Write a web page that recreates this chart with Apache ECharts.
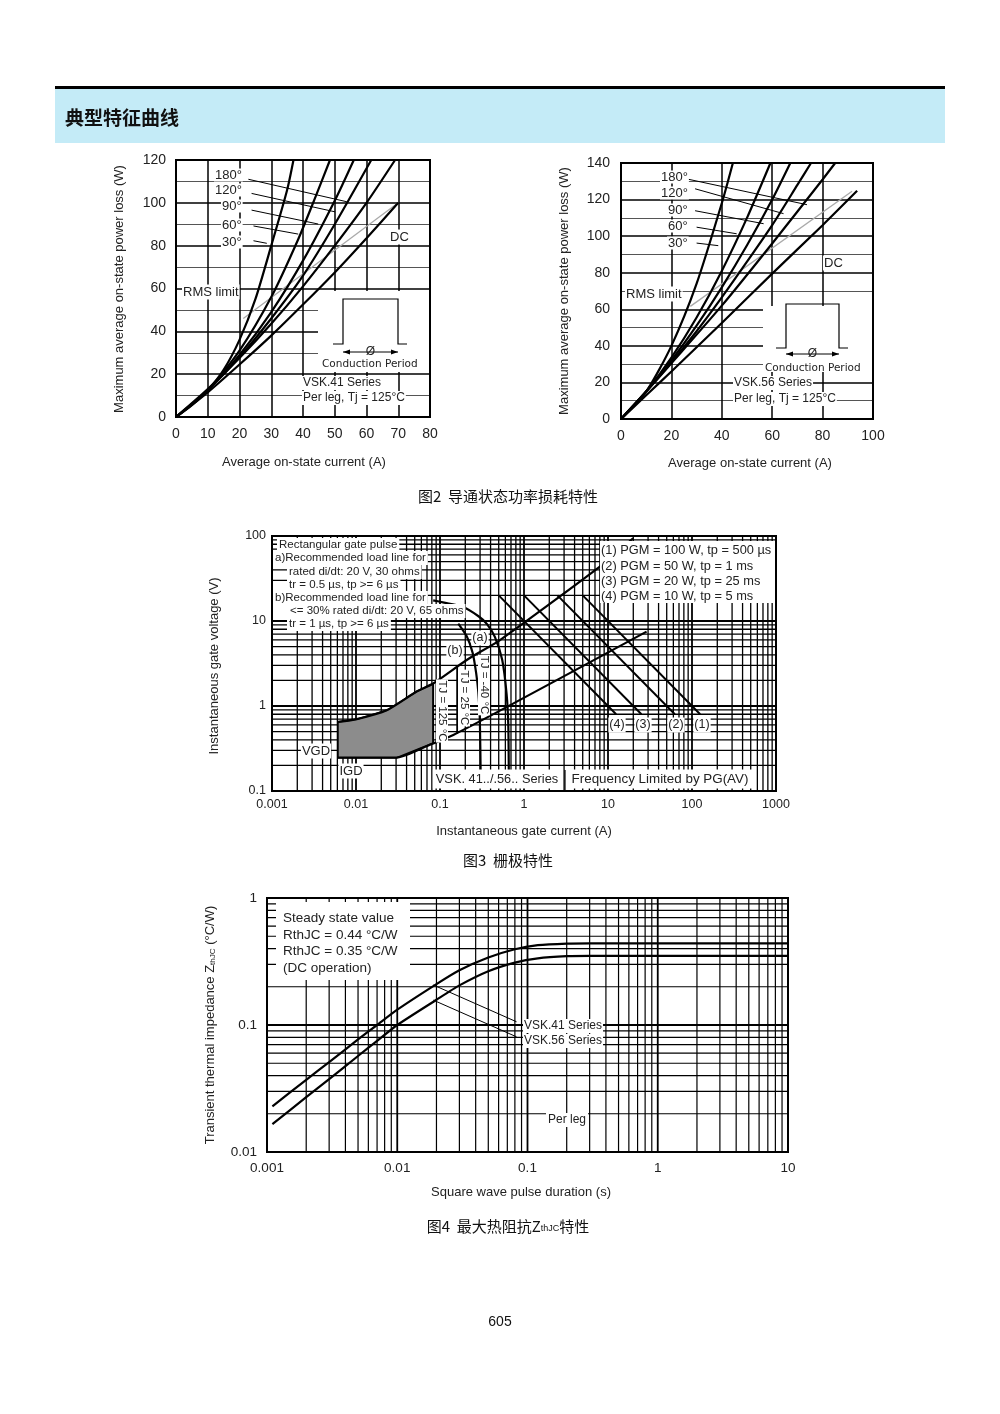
<!DOCTYPE html>
<html><head><meta charset="utf-8">
<script src="https://cdn.jsdelivr.net/npm/echarts@6/dist/echarts.min.js"></script>
<style>html,body{margin:0;padding:0;background:#fff}#main{width:1000px;height:1414px}</style>
</head><body><div id="main"></div>
<script>
// ================= DATA =================
// Fig 2 left (VSK.41): average current (A) -> power loss (W)
const c1_30  = [[0,0],[5,5.5],[10,12.5],[15,22],[20,36],[25,55],[30,80],[35,106],[37,120]];
const c1_60  = [[0,0],[10,12.5],[20,31],[30,56],[38.5,83],[44,103],[48.5,120]];
const c1_90  = [[0,0],[10,12.5],[20,29],[30,49],[40,73],[50,101],[56,120]];
const c1_120 = [[0,0],[10,12.5],[20,28],[30,46],[40,66],[50,90],[61.5,120]];
const c1_180 = [[0,0],[10,13],[20,27.5],[30,43.5],[40,61],[50,80],[60,100],[69,120]];
const c1_dc  = [[0,0],[10,11.5],[20,24.5],[30,38],[40,52.5],[50,67.5],[60,83.5],[70,100]];
const c1_rms = [[21.2,46],[70,100]];
const c1_leaders = [
  [[22.8,111.0],[53.8,100.5]], [[23.8,104.4],[50.1,95.8]], [[23.8,96.6],[44.8,90.1]],
  [[24.4,89.2],[38.5,85.4]], [[24.4,82.3],[28.6,81.1]]
];
// Fig 2 right (VSK.56)
const c2_30  = [[0,0],[10,15],[20,40],[30,74],[40,118],[44.4,140]];
const c2_60  = [[0,0],[10,15],[20,33.5],[30,55.5],[40,81],[50,110],[59.3,140]];
const c2_90  = [[0,0],[10,15],[20,32],[30,51],[40,72],[50,95],[60,120],[67.2,140]];
const c2_120 = [[0,0],[10,15],[20,31],[30,48],[40,66.5],[50,86],[60,106],[70,128],[75.4,140]];
const c2_180 = [[0,0],[10,15],[20,30.5],[40,62],[60,96],[80,131],[85,140]];
const c2_dc  = [[0,0],[10,13],[20,26],[40,52.5],[60,79.5],[80,106],[93.7,124.8]];
const c2_rms = [[27.5,61.6],[91.7,124.5]];
const c2_leaders = [
  [[26.4,131.2],[73.8,117.2]], [[29.4,125.9],[64.5,112.3]], [[29.4,113.9],[56.6,106.8]],
  [[30.0,104.9],[45.9,101.3]], [[30.0,96.2],[38.6,94.8]]
];
// Fig 3: gate characteristics, gate current (A) -> gate voltage (V)
const gateUpper = [[0.0061,0.65],[0.0102,0.70],[0.0232,0.89],[0.0527,1.48],[0.083,1.84],[0.208,3.48],[0.518,5.97],[8,43.6],[19.9,94]];
const gateLower = [[0.0061,0.2465],[0.0305,0.2465],[0.076,0.35],[0.144,0.457],[0.62,0.97],[28.8,7.5]];
const gateRegion = [[0.0061,0.65],[0.0102,0.70],[0.0232,0.89],[0.0527,1.48],[0.083,1.84],[0.083,0.367],[0.0305,0.2465],[0.0061,0.2465]];
const loadA = [[0.083,17.5],[0.188,14.6],[0.29,11.3],[0.363,9.2],[0.45,6.5],[0.55,3.5],[0.62,1.4],[0.65,0.6],[0.66,0.15]];
const loadB = [[0.165,9.3],[0.208,6.6],[0.245,4.2],[0.27,2.4],[0.286,1.45],[0.298,0.7],[0.305,0.15]];
const tj125 = [[0.083,0.367],[0.083,1.84]];
const tj25  = [[0.16,0.47],[0.16,2.9]];
const pgm1 = [[5,20],[125,0.8]];
const pgm2 = [[2.5,20],[62.5,0.8]];
const pgm3 = [[1,20],[25,0.8]];
const pgm4 = [[0.5,20],[12.5,0.8]];
// Fig 4: transient thermal impedance, pulse duration (s) -> Zth (°C/W)
const zth41 = [[0.0011,0.0229],[0.002,0.037],[0.003,0.051],[0.005,0.077],[0.007,0.1],[0.01,0.132],[0.02,0.21],[0.03,0.27],[0.05,0.34],[0.08,0.395],[0.12,0.425],[0.2,0.438],[0.3,0.44],[10,0.44]];
const zth56 = [[0.0011,0.0166],[0.002,0.027],[0.003,0.0375],[0.005,0.057],[0.007,0.075],[0.01,0.1],[0.02,0.158],[0.03,0.205],[0.05,0.265],[0.08,0.31],[0.12,0.335],[0.2,0.348],[0.3,0.35],[10,0.35]];
const zthLeaders = [ [[0.0189,0.2066],[0.0824,0.106]], [[0.0189,0.157],[0.0824,0.0807]] ];
// tick labels
const x3Labels = ['0.001','0.01','0.1','1','10','100','1000'];
const y3Labels = ['0.1','1','10','100'];
const x4Labels = ['0.001','0.01','0.1','1','10'];
const y4Labels = ['0.01','0.1','1'];

// ================= LAYOUT =================
const FONT = '"Liberation Sans", Arial, sans-serif';
const CJK = '"Noto Sans CJK SC", "Noto Sans CJK JP", sans-serif';
const G = [
  {left:176, top:160, width:254, height:257},
  {left:621, top:163, width:252, height:256},
  {left:272, top:536, width:504, height:255},
  {left:267, top:898, width:521, height:254}
];

const chart = echarts.init(document.getElementById('main'), null, {renderer:'canvas'});

function T(text, x, y, o) {
  o = o || {};
  return {type:'text', x:x, y:y, rotation:o.rot||0, z:o.z||30, silent:true,
    style:{text:text, x:0, y:0, fill:o.color||'#222', fontSize:o.size||13, fontFamily:o.family||FONT,
      fontWeight:o.weight||'normal', align:o.align||'left', verticalAlign:'middle',
      backgroundColor:o.bg, padding:o.pad, rich:o.rich}};
}
function R(x, y, w, h, fill, z) { return {type:'rect', z:z||25, silent:true, shape:{x:x,y:y,width:w,height:h}, style:{fill:fill}}; }
function Ln(x1,y1,x2,y2,w,c,z){ return {type:'line', z:z||26, silent:true, shape:{x1:x1,y1:y1,x2:x2,y2:y2}, style:{stroke:c||'#000', lineWidth:w||1}}; }
function PL(points,w,z){ return {type:'polyline', z:z||26, silent:true, shape:{points:points}, style:{stroke:'#000', fill:null, lineWidth:w||1.2}}; }
function PG(points,z){ return {type:'polygon', z:z||26, silent:true, shape:{points:points}, style:{fill:'#000'}}; }
function border(g){ return {type:'rect', z:40, silent:true, shape:{x:g.left,y:g.top,width:g.width,height:g.height}, style:{fill:null, stroke:'#000', lineWidth:2}}; }

function inset(x0, x1, top, base, arrowY, textY, textX, boxX, boxTop, boxBottom, right) {
  const els = [];
  els.push(R(boxX, boxTop, right - boxX, boxBottom - boxTop, '#fff', 22));
  els.push(PL([[x0-10,base],[x0,base],[x0,top],[x1,top],[x1,base],[x1+9,base]], 1.2));
  els.push(Ln(x0, arrowY, x1, arrowY, 1));
  els.push(PG([[x0,arrowY],[x0+7,arrowY-2.5],[x0+7,arrowY+2.5]]));
  els.push(PG([[x1,arrowY],[x1-7,arrowY-2.5],[x1-7,arrowY+2.5]]));
  els.push(T('Ø', (x0+x1)/2, arrowY, {size:12, align:'center'}));
  els.push(T('Conduction Period', textX, textY, {size:10.5, family:'"DejaVu Sans", sans-serif'}));
  return els;
}

const graphics = [];
// header
graphics.push(R(55, 86, 890, 3, '#000', 5));
graphics.push(R(55, 89, 890, 54, '#c4ebf7', 5));
graphics.push(T('典型特征曲线', 65, 118, {size:19, weight:'bold', family:CJK, color:'#111'}));
// fig 2 left
graphics.push(T('Maximum average on-state power loss (W)', 119, 289, {rot:Math.PI/2, align:'center', size:13}));
graphics.push(T('Average on-state current (A)', 304, 462, {align:'center', size:13}));
['180°','120°','90°','60°','30°'].forEach(function(s,i){
  const ys=[175,190,206,225,242], xs=[214,214,221,221,221];
  graphics.push(T(s, xs[i], ys[i], {size:13, bg:'#fff', pad:[0,1]}));
});
graphics.push(T('RMS limit', 182, 292, {size:13, bg:'#fff', pad:[1,1]}));
graphics.push(T('DC', 389, 237, {size:13, bg:'#fff', pad:[1,1]}));
graphics.push.apply(graphics, inset(343, 398, 299, 344, 352, 364, 322, 318, 291, 372, 429));
graphics.push(T('VSK.41 Series', 302, 383, {size:12, bg:'#fff', pad:[1,1]}));
graphics.push(T('Per leg, Tj = 125°C', 302, 398, {size:12, bg:'#fff', pad:[1,1]}));
// fig 2 right
graphics.push(T('Maximum average on-state power loss (W)', 564, 291, {rot:Math.PI/2, align:'center', size:13}));
graphics.push(T('Average on-state current (A)', 750, 463, {align:'center', size:13}));
['180°','120°','90°','60°','30°'].forEach(function(s,i){
  const ys=[177,193,210,226,243], xs=[660,660,667,667,667];
  graphics.push(T(s, xs[i], ys[i], {size:13, bg:'#fff', pad:[0,1]}));
});
graphics.push(T('RMS limit', 625, 294, {size:13, bg:'#fff', pad:[1,1]}));
graphics.push(T('DC', 823, 263, {size:13, bg:'#fff', pad:[1,1]}));
graphics.push.apply(graphics, inset(786, 839, 304, 348, 354, 368, 765, 763, 306, 372, 872));
graphics.push(T('VSK.56 Series', 733, 383, {size:12, bg:'#fff', pad:[1,1]}));
graphics.push(T('Per leg, Tj = 125°C', 733, 399, {size:12, bg:'#fff', pad:[1,1]}));
graphics.push(T('图2  导通状态功率损耗特性', 508, 496, {align:'center', size:15, family:CJK, color:'#111'}));
// fig 3
graphics.push(T('Instantaneous gate voltage (V)', 214, 666, {rot:Math.PI/2, align:'center', size:13}));
graphics.push(T('Instantaneous gate current (A)', 524, 831, {align:'center', size:13}));
[['Rectangular gate pulse',277,545],['a)Recommended load line for',273,558],['rated di/dt: 20 V, 30 ohms',287,572],
 ['tr = 0.5 µs, tp >= 6 µs',287,585],['b)Recommended load line for',273,598],['<= 30% rated di/dt: 20 V, 65 ohms',288,611],
 ['tr = 1 µs, tp >= 6 µs',287,624]].forEach(function(a){
  graphics.push(T(a[0], a[1], a[2], {size:11.5, bg:'#fff', pad:[1,2]}));
});
graphics.push(R(600, 541, 175, 62, '#fff', 22));
[['(1) PGM = 100 W, tp = 500 µs',550],['(2) PGM = 50 W, tp = 1 ms',566],['(3) PGM = 20 W, tp = 25 ms',581],['(4) PGM = 10 W, tp = 5 ms',596]]
 .forEach(function(a){ graphics.push(T(a[0], 601, a[1], {size:12.8})); });
[['(4)',617],['(3)',643],['(2)',676],['(1)',702]].forEach(function(a){
  graphics.push(T(a[0], a[1], 725, {size:12.5, align:'center', bg:'#fff', pad:[1,1]}));
});
graphics.push(T('(a)', 480, 638, {size:12.5, align:'center', bg:'#fff', pad:[1,1]}));
graphics.push(T('(b)', 455, 651, {size:12.5, align:'center', bg:'#fff', pad:[1,1]}));
graphics.push(T('TJ = -40 °C', 484, 685, {rot:-Math.PI/2, size:11.5, align:'center', bg:'#fff', pad:[0,1]}));
graphics.push(T('TJ = 25 °C', 464, 698, {rot:-Math.PI/2, size:11.5, align:'center', bg:'#fff', pad:[0,1]}));
graphics.push(T('TJ = 125 °C', 442, 711, {rot:-Math.PI/2, size:11.5, align:'center', bg:'#fff', pad:[0,1]}));
graphics.push(T('VGD', 316, 751, {size:13, align:'center', bg:'#fff', pad:[1,1]}));
graphics.push(T('IGD', 351, 771, {size:13, align:'center', bg:'#fff', pad:[1,1]}));
graphics.push(T('VSK. 41../.56.. Series', 497, 779, {size:12.8, align:'center', bg:'#fff', pad:[3,3]}));
graphics.push(T('Frequency Limited by PG(AV)', 660, 779, {size:13.4, align:'center', bg:'#fff', pad:[3,4]}));
graphics.push(Ln(565, 770, 565, 791, 1.2, '#000', 31));
graphics.push(T('图3  栅极特性', 508, 860, {align:'center', size:15, family:CJK, color:'#111'}));
// fig 4
graphics.push(T('Transient thermal impedance Z{s|thJC} (°C/W)', 210, 1025, {rot:Math.PI/2, align:'center', size:13,
  rich:{s:{fontSize:8, fontFamily:FONT, fill:'#222', verticalAlign:'bottom', padding:[5,0,0,0]}}}));
graphics.push(T('Square wave pulse duration (s)', 521, 1192, {align:'center', size:13}));
graphics.push(R(276, 902, 134, 78, '#fff', 22));
[['Steady state value',918],['RthJC = 0.44 °C/W',935],['RthJC = 0.35 °C/W',951],['(DC operation)',968]]
 .forEach(function(a){ graphics.push(T(a[0], 283, a[1], {size:13.5})); });
graphics.push(T('VSK.41 Series', 523, 1026, {size:12, bg:'#fff', pad:[1,1]}));
graphics.push(T('VSK.56 Series', 523, 1041, {size:12, bg:'#fff', pad:[1,1]}));
graphics.push(T('Per leg', 546, 1120, {size:12, bg:'#fff', pad:[1,2]}));
graphics.push(T('图4  最大热阻抗Z{s|thJC}特性', 508, 1226, {align:'center', size:15, family:CJK, color:'#111',
  rich:{s:{fontSize:9, fontFamily:FONT, fill:'#111', verticalAlign:'bottom', padding:[6,0,0,0]}}}));
graphics.push(T('605', 500, 1322, {align:'center', size:14, color:'#111'}));
G.forEach(function(g){ graphics.push(border(g)); });

// ================= AXES =================
const lab = {color:'#222', fontSize:14, fontFamily:FONT};
function valX(gi, max, interval, margin){
  return {type:'value', gridIndex:gi, min:0, max:max, interval:interval,
    axisLine:{show:false}, axisTick:{show:false},
    axisLabel:Object.assign({margin:margin}, lab),
    splitLine:{show:true, lineStyle:{color:'#000', width:1.5}}};
}
function valY(gi, max, margin){
  return {type:'value', gridIndex:gi, min:0, max:max, interval:20,
    axisLine:{show:false}, axisTick:{show:false},
    axisLabel:Object.assign({margin:margin}, lab),
    splitLine:{show:true, lineStyle:{color:'#000', width:1.6}},
    minorTick:{show:false, splitNumber:2},
    minorSplitLine:{show:true, lineStyle:{color:'#555', width:1}}};
}
function logAx(gi, min, max, labels, offs, margin, size){
  return {type:'log', logBase:10, gridIndex:gi, min:min, max:max,
    axisLine:{show:false}, axisTick:{show:false}, splitLine:{show:false},
    axisLabel:{margin:margin, color:'#222', fontSize:size, fontFamily:FONT,
      formatter:function(v){ return labels[Math.round(Math.log10(v))+offs]; }}};
}
const xAxes = [valX(0,80,10,10), valX(1,100,20,10), logAx(2,0.001,1000,x3Labels,3,7,12.5), logAx(3,0.001,10,x4Labels,3,9,13.5)];
const yAxes = [valY(0,120,10), valY(1,140,11), logAx(2,0.1,100,y3Labels,1,6,12.5), logAx(3,0.01,1,y4Labels,2,10,13.5)];

// ================= SERIES =================
const series = [];
function L(data, gi, o){
  o = o || {};
  return {type:'line', xAxisIndex:gi, yAxisIndex:gi, data:data, symbol:'none', showSymbol:false,
    smooth:o.smooth===undefined?0.25:o.smooth, silent:true, z:o.z||3,
    lineStyle:{color:o.color||'#000', width:o.width||2.2}};
}
[c1_30,c1_60,c1_90,c1_120,c1_180,c1_dc].forEach(function(d){ series.push(L(d,0)); });
series.push(L(c1_rms,0,{smooth:false,color:'#aaa',width:1.3,z:2}));
c1_leaders.forEach(function(d){ series.push(L(d,0,{smooth:false,width:1})); });
[c2_30,c2_60,c2_90,c2_120,c2_180,c2_dc].forEach(function(d){ series.push(L(d,1)); });
series.push(L(c2_rms,1,{smooth:false,color:'#aaa',width:1.3,z:2}));
c2_leaders.forEach(function(d){ series.push(L(d,1,{smooth:false,width:1})); });

// log grid lines drawn through the axes' own scales
function logGridSeries(gi, xr, yr, wMinor, wMajor){
  const data = [];
  function ticks(lo, hi){ const out=[]; for(let e=Math.round(Math.log10(lo)); e<Math.round(Math.log10(hi)); e++){ for(let k=1;k<10;k++){ const v=k*Math.pow(10,e); if(v>lo*1.0001 && v<hi*0.9999) out.push([v,k]); } } return out; }
  const xm = Math.sqrt(xr[0]*xr[1]), ym = Math.sqrt(yr[0]*yr[1]);
  ticks(xr[0],xr[1]).forEach(function(t){ data.push([t[0], ym, 0, t[1]]); });
  ticks(yr[0],yr[1]).forEach(function(t){ data.push([xm, t[0], 1, t[1]]); });
  return {type:'custom', xAxisIndex:gi, yAxisIndex:gi, data:data, silent:true, z:1, encode:{x:0,y:1},
    renderItem:function(params, api){
      const v0=api.value(0), v1=api.value(1), o=api.value(2), k=api.value(3);
      let p1, p2;
      if (o===0){ p1=api.coord([v0,yr[0]]); p2=api.coord([v0,yr[1]]); }
      else { p1=api.coord([xr[0],v1]); p2=api.coord([xr[1],v1]); }
      return {type:'line', shape:{x1:p1[0],y1:p1[1],x2:p2[0],y2:p2[1]}, style:{stroke:'#000', lineWidth:k===1?wMajor:wMinor}};
    }};
}
series.push(logGridSeries(2,[0.001,1000],[0.1,100],1.3,1.8));
series.push(logGridSeries(3,[0.001,10],[0.01,1],1.2,1.8));
// gate trigger region
series.push({type:'custom', xAxisIndex:2, yAxisIndex:2, data:[[0.01,0.5]], silent:true, z:2, encode:{x:0,y:1},
  renderItem:function(params, api){
    return {type:'polygon', shape:{points:gateRegion.map(function(p){return api.coord(p);})},
      style:{fill:'#8c8c8c', stroke:'#000', lineWidth:1.5}};
  }});
series.push(L(gateUpper,2,{smooth:0.2}));
series.push(L(gateLower,2,{smooth:0.2}));
series.push(L(loadA,2,{smooth:0.2}));
series.push(L(loadB,2,{smooth:0.2}));
series.push(L(tj125,2,{smooth:false,width:1.8}));
series.push(L(tj25,2,{smooth:false,width:1.8}));
[pgm1,pgm2,pgm3,pgm4].forEach(function(d){ series.push(L(d,2,{smooth:false,width:2})); });
series.push(L(zth41,3,{smooth:0.2,width:2.2}));
series.push(L(zth56,3,{smooth:0.2,width:2.2}));
zthLeaders.forEach(function(d){ series.push(L(d,3,{smooth:false,width:1})); });

chart.setOption({
  animation:false,
  backgroundColor:'#fff',
  grid:G.map(function(g){ return Object.assign({containLabel:false}, g); }),
  xAxis:xAxes, yAxis:yAxes, series:series, graphic:{elements:graphics}
});
</script></body></html>
